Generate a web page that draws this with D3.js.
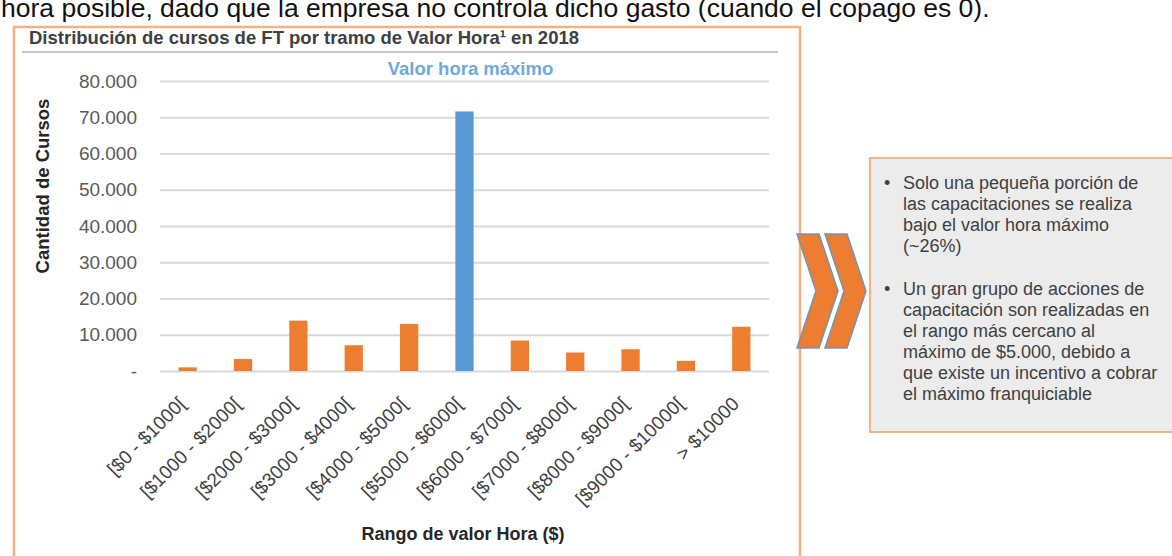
<!DOCTYPE html>
<html>
<head>
<meta charset="utf-8">
<script src="https://cdn.jsdelivr.net/npm/d3@7"></script>
<style>
  html, body { margin: 0; padding: 0; background: #fff; }
  svg { display: block; font-family: "Liberation Sans", Arial, sans-serif; }
</style>
</head>
<body>
<div class="chart"></div>
<script>
// data
const categories = ["[$0 - $1000[", "[$1000 - $2000[", "[$2000 - $3000[", "[$3000 - $4000[",
  "[$4000 - $5000[", "[$5000 - $6000[", "[$6000 - $7000[", "[$7000 - $8000[",
  "[$8000 - $9000[", "[$9000 - $10000[", "> $10000"]
const cursos = [1000, 3300, 13900, 7100, 13000, 71600, 8400, 5100, 6000, 2800, 12200]
const highlight = "[$5000 - $6000["
const yTicks = [0, 10000, 20000, 30000, 40000, 50000, 60000, 70000, 80000]
const bullets = [
  ["Solo una pequeña porción de", "las capacitaciones se realiza", "bajo el valor hora máximo", "(~26%)"],
  ["Un gran grupo de acciones de", "capacitación son realizadas en", "el rango más cercano al",
   "máximo de $5.000, debido a", "que existe un incentivo a cobrar", "el máximo franquiciable"]
]

const width = 1172
const height = 556
const orange = "#ed7d31", blue = "#5b9bd5", frameCol = "#f4b183"

const svg = d3.select(".chart").append("svg")
  .attr("width", width).attr("height", height)

// cut-off sentence from the slide above the chart
svg.append("text")
  .attr("x", 1).attr("y", 17)
  .attr("font-size", 26.5).attr("fill", "#111")
  .text("hora posible, dado que la empresa no controla dicho gasto (cuando el copago es 0).")

// chart frame
svg.append("rect")
  .attr("x", 14).attr("y", 27).attr("width", 786).attr("height", 600)
  .attr("fill", "none").attr("stroke", frameCol).attr("stroke-width", 2.5)

svg.append("text")
  .attr("x", 29).attr("y", 44)
  .attr("font-size", 18.5).attr("font-weight", "bold").attr("fill", "#404040")
  .text("Distribución de cursos de FT por tramo de Valor Hora¹ en 2018")

svg.append("line")
  .attr("x1", 22).attr("x2", 778).attr("y1", 52).attr("y2", 52)
  .attr("stroke", "#c8c8c8").attr("stroke-width", 2)

const x = d3.scaleBand().domain(categories).range([160, 769])
  .paddingInner(0.67).paddingOuter(0.335)
const y = d3.scaleLinear().domain([0, 80000]).range([371, 81])

const locale = d3.formatLocale({ decimal: ",", thousands: ".", grouping: [3], currency: ["$", ""] })
const fmt = locale.format(",")

// gridlines + y labels
const yAxis = svg.append("g")
  .attr("transform", "translate(160,0)")
  .call(d3.axisLeft(y).tickValues(yTicks).tickSize(-609).tickPadding(23)
    .tickFormat(d => d === 0 ? "-" : fmt(d)))
yAxis.select(".domain").remove()
yAxis.selectAll(".tick line").attr("stroke", "#d9d9d9").attr("stroke-width", 2)
yAxis.selectAll(".tick text")
  .attr("font-size", 19).attr("fill", "#595959")
  .attr("font-family", "Liberation Sans, Arial, sans-serif")

svg.append("g").selectAll("rect")
  .data(categories)
  .join("rect")
  .attr("x", d => x(d))
  .attr("width", x.bandwidth())
  .attr("y", (d, i) => y(cursos[i]))
  .attr("height", (d, i) => y(0) - y(cursos[i]))
  .attr("fill", d => d === highlight ? blue : orange)

// x labels, rotated
const xAxis = svg.append("g")
  .attr("transform", "translate(0,371)")
  .call(d3.axisBottom(x).tickSize(0).tickPadding(0))
xAxis.select(".domain").remove()
xAxis.selectAll(".tick text")
  .attr("font-size", 19).attr("fill", "#404040")
  .attr("font-family", "Liberation Sans, Arial, sans-serif")
  .attr("text-anchor", "end")
  .attr("transform", "translate(-1,34) rotate(-45)")
  .attr("dy", 0)

svg.append("text")
  .attr("x", x(highlight) + x.bandwidth() / 2 + 6).attr("y", 75)
  .attr("text-anchor", "middle")
  .attr("font-size", 18.5).attr("font-weight", "bold").attr("fill", "#6fa8dc")
  .text("Valor hora máximo")

svg.append("text")
  .attr("transform", "translate(49,186) rotate(-90)")
  .attr("text-anchor", "middle")
  .attr("font-size", 18.5).attr("font-weight", "bold").attr("fill", "#262626")
  .text("Cantidad de Cursos")

svg.append("text")
  .attr("x", 463).attr("y", 540)
  .attr("text-anchor", "middle")
  .attr("font-size", 18).attr("font-weight", "bold").attr("fill", "#262626")
  .text("Rango de valor Hora ($)")

// comment box on the right
svg.append("rect")
  .attr("x", 870).attr("y", 158).attr("width", 320).attr("height", 274)
  .attr("fill", "#ececec").attr("stroke", frameCol).attr("stroke-width", 2)

const paraTop = [189, 295]
const lineH = 21
bullets.forEach((lines, p) => {
  svg.append("text")
    .attr("x", 884).attr("y", paraTop[p])
    .attr("font-size", 18).attr("fill", "#404040")
    .text("•")
  svg.append("g").selectAll("text")
    .data(lines)
    .join("text")
    .attr("x", 903)
    .attr("y", (d, i) => paraTop[p] + i * lineH)
    .attr("font-size", 18).attr("fill", "#404040")
    .text(d => d)
})

// double chevron
const chev = [[0, 0], [22, 0], [41, 57], [22, 114], [0, 114], [19, 57]]
svg.append("g").selectAll("path")
  .data([797, 825])
  .join("path")
  .attr("d", x0 => "M" + chev.map(p => [x0 + p[0], 234 + p[1]].join(",")).join("L") + "Z")
  .attr("fill", orange).attr("stroke", "#7393b5").attr("stroke-width", 1.5)
</script>
</body>
</html>
